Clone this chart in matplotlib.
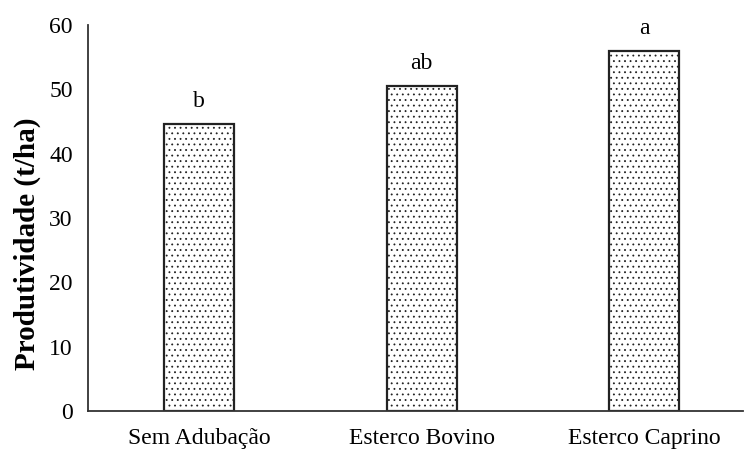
import matplotlib
matplotlib.use("Agg")
import matplotlib.pyplot as plt

categories = ["Sem Adubação", "Esterco Bovino", "Esterco Caprino"]
values = [44.6, 50.5, 55.9]
letters = ["b", "ab", "a"]
yticks = [0, 10, 20, 30, 40, 50, 60]

plt.rcParams['font.family'] = ['Liberation Serif', 'DejaVu Serif']
plt.rcParams['hatch.linewidth'] = 0.6
plt.rcParams['hatch.color'] = '#111111'

W, H = 744, 450
fig = plt.figure(figsize=(W/100, H/100), dpi=100)
left, right, bottom, top = 88, 743, 411, 25
ax = fig.add_axes([left/W, (H-bottom)/H, (right-left)/W, (bottom-top)/H])

x = list(range(len(categories)))
ax.bar(x, values, width=0.315, color='white', edgecolor='#222222', linewidth=1.6, hatch='...')
for xi, v, t in zip(x, values, letters):
    ax.text(xi, v + 1.9, t, ha='center', va='bottom', fontsize=17)

step = 222.5
ax.set_xlim(-0.5, -0.5 + (right-left)/step)
ax.set_ylim(0, 60)
ax.set_yticks(yticks)
ax.set_xticks(x)
ax.set_xticklabels(categories, fontsize=17)
ax.tick_params(axis='both', length=0, labelsize=17)
ax.tick_params(axis='y', pad=11)
ax.tick_params(axis='x', pad=12)
for s in ['top', 'right']:
    ax.spines[s].set_visible(False)
for s in ['left', 'bottom']:
    ax.spines[s].set_color('#333333')
    ax.spines[s].set_linewidth(1.3)
ax.set_ylabel("Produtividade (t/ha)", fontsize=21, fontweight='bold')
ax.yaxis.set_label_coords((27 - left) / (right - left), (bottom - 244) / (bottom - top))
ax.yaxis.label.set_va('center')

fig.savefig("out.png", dpi=100)
